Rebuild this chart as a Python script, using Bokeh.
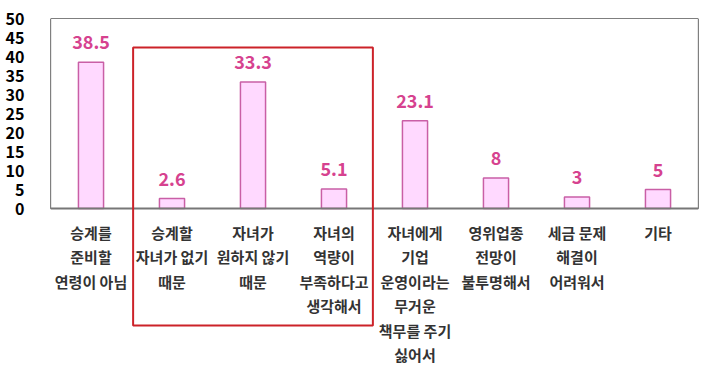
from bokeh.plotting import figure
from bokeh.models import ColumnDataSource, BoxAnnotation, Range1d, FixedTicker, Span
from bokeh.embed import file_html
from bokeh.resources import INLINE
from bokeh.core.properties import value

categories = [
    "승계를\n준비할\n연령이 아님",
    "승계할\n자녀가 없기\n때문",
    "자녀가\n원하지 않기\n때문",
    "자녀의\n역량이\n부족하다고\n생각해서",
    "자녀에게\n기업\n운영이라는\n무거운\n책무를 주기\n싫어서",
    "영위업종\n전망이\n불투명해서",
    "세금 문제\n해결이\n어려워서",
    "기타",
]
values = [38.5, 2.6, 33.3, 5.1, 23.1, 8, 3, 5]
value_text = ["38.5", "2.6", "33.3", "5.1", "23.1", "8", "3", "5"]
y_ticks = [0, 5, 10, 15, 20, 25, 30, 35, 40, 45, 50]

FONT = "Noto Sans CJK KR"

# plot area: 0..50 occupies 190px; extended below to host labels and red box
PX_PER_UNIT = 190 / 50
EXT_PX = 157
y_min = -EXT_PX / PX_PER_UNIT

src = ColumnDataSource(dict(x=categories, top=values, txt=value_text,
                            zero=[0] * len(values)))

p = figure(x_range=categories, y_range=Range1d(y_min, 50),
           frame_width=648, frame_height=190 + EXT_PX,
           min_border_left=50, min_border_right=8, min_border_top=18, min_border_bottom=0,
           output_backend="svg", toolbar_location=None)

p.vbar(x="x", top="top", width=0.31, source=src,
       fill_color="#FFD9FF", line_color="#C95FA6", line_width=1.5)
p.text(x="x", y="top", text="txt", source=src,
       text_align="center", text_baseline="bottom", y_offset=-13,
       text_font=value(FONT), text_font_style="bold", text_font_size="18px",
       text_color="#D6428F")
# category labels below the baseline
p.text(x="x", y="zero", text="x", source=src,
       text_align="center", text_baseline="top", y_offset=13,
       text_font=value(FONT), text_font_style="bold", text_font_size="15px",
       text_color="#333333", text_line_height=1.17)

p.xgrid.grid_line_color = None
p.ygrid.grid_line_color = None
p.outline_line_color = None
p.background_fill_color = "white"
p.border_fill_color = "white"
p.xaxis.visible = False

ya = p.yaxis[0]
ya.ticker = FixedTicker(ticks=y_ticks)
ya.axis_line_color = None
ya.major_tick_line_color = None
ya.minor_tick_line_color = None
ya.major_label_standoff = 20
ya.major_label_text_font = FONT
ya.major_label_text_font_style = "bold"
ya.major_label_text_font_size = "16px"
ya.major_label_text_color = "black"

# chart frame (0..50 area)
frame = BoxAnnotation(left=0, right=len(categories), top=50, bottom=0,
                      fill_color=None, line_color="black", line_alpha=1, line_width=1.2)
p.add_layout(frame)
p.add_layout(Span(location=0, dimension="width", line_color="#777777", line_width=2))

box = BoxAnnotation(left=1.02, right=3.98, top=42.4, bottom=-30.8,
                    fill_color=None, line_color="#CC2229", line_alpha=1, line_width=2)
p.add_layout(box)

open("out.html", "w").write(file_html(p, INLINE))
